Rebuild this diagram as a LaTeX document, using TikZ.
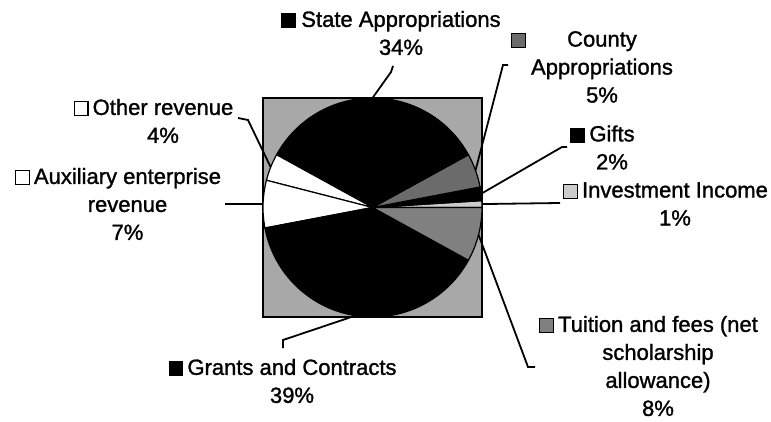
\documentclass[tikz,border=0pt]{standalone}
\usepackage{fontspec}
\setmainfont{Liberation Sans}[FakeBold=1.3]
\usepackage{tikz}

\definecolor{plotgray}{gray}{0.66}
\definecolor{countygray}{gray}{0.42}
\definecolor{tuitiongray}{gray}{0.5}
\definecolor{investgray}{gray}{0.8}
\newcommand{\keybox}[1]{{\setlength{\fboxsep}{0pt}\setlength{\fboxrule}{1.2pt}\fcolorbox{black}{#1}{\rule{0pt}{12.5pt}\rule{12.5pt}{0pt}}}}

\begin{document}
\begin{tikzpicture}[x=1pt,y=1pt,
  lbl/.style={align=center,font=\fontsize{22}{28}\selectfont,inner sep=0pt},
  leader/.style={line width=1.8pt},
  slice/.style={draw=black,line width=1.2pt}]
\useasboundingbox (0,0) rectangle (771,421);

% plot area
\draw[fill=plotgray,line width=1.5pt] (263,104) rectangle (482,323);
\coordinate (pie) at (372.5,213.5);

% slices, counterclockwise from 3 o'clock
\filldraw[slice,fill=investgray] (pie) -- ++(0:109.5) arc (0:3.6:109.5) -- cycle;
\filldraw[slice,fill=black] (pie) -- ++(3.6:109.5) arc (3.6:10.8:109.5) -- cycle;
\filldraw[slice,fill=countygray] (pie) -- ++(10.8:109.5) arc (10.8:28.8:109.5) -- cycle;
\filldraw[slice,fill=black] (pie) -- ++(28.8:109.5) arc (28.8:151.2:109.5) -- cycle;
\filldraw[slice,fill=white] (pie) -- ++(151.2:109.5) arc (151.2:165.6:109.5) -- cycle;
\filldraw[slice,fill=white] (pie) -- ++(165.6:109.5) arc (165.6:190.8:109.5) -- cycle;
\filldraw[slice,fill=black] (pie) -- ++(190.8:109.5) arc (190.8:331.2:109.5) -- cycle;
\filldraw[slice,fill=tuitiongray] (pie) -- ++(331.2:109.5) arc (331.2:360:109.5) -- cycle;

% labels
\node[lbl] (stateLbl) at (401,388) {\llap{\keybox{black}\hspace{5pt}}State Appropriations\\34\%};
\node[lbl] (countyLbl) at (602,354) {\llap{\keybox{countygray}\hspace{41pt}}County\\Appropriations\\5\%};
\node[lbl] (giftsLbl) at (612,273.5) {\llap{\keybox{black}\hspace{4pt}}Gifts\\2\%};
\node[lbl] (investLbl) at (675,217) {\llap{\keybox{investgray}\hspace{4pt}}Investment Income\\1\%};
\node[lbl] (tuitionLbl) at (658,55) {\llap{\keybox{tuitiongray}\hspace{4pt}}Tuition and fees (net\\scholarship\\allowance)\\8\%};
\node[lbl] (grantsLbl) at (292,40) {\llap{\keybox{black}\hspace{4pt}}Grants and Contracts\\39\%};
\node[lbl] (auxLbl) at (127.5,217) {\llap{\keybox{white}\hspace{4pt}}Auxiliary enterprise\\revenue\\7\%};
\node[lbl] (otherLbl) at (163,300) {\llap{\keybox{white}\hspace{4pt}}Other revenue\\4\%};

% leader lines
\path (pie) ++(90:109.5) coordinate (stateEdge);
\path (pie) ++(19.8:109.5) coordinate (countyEdge);
\path (pie) ++(7.2:109.5) coordinate (giftsEdge);
\path (pie) ++(1.8:109.5) coordinate (investEdge);
\path (pie) ++(345.6:109.5) coordinate (tuitionEdge);
\path (pie) ++(261:109.5) coordinate (grantsEdge);
\path (pie) ++(178.2:109.5) coordinate (auxEdge);
\path (pie) ++(158.4:109.5) coordinate (otherEdge);

\coordinate (stateEnd) at (393,355);
\coordinate (countyEnd) at (508,356);
\coordinate (giftsEnd) at (567,274);
\coordinate (investEnd) at (560,218);
\coordinate (tuitionEnd) at (535,54);
\coordinate (grantsEnd) at (283,73);
\coordinate (auxEnd) at (225,217);
\coordinate (otherEnd) at (238,303);

\draw[leader] (stateEdge) -- (391,349) -- (stateEnd);
\draw[leader] (countyEdge) -- (503,356) -- (countyEnd);
\draw[leader] (giftsEdge) -- (562,274) -- (giftsEnd);
\draw[leader] (investEdge) -- (investEnd);
\draw[leader] (tuitionEdge) -- (528,54) -- (tuitionEnd);
\draw[leader] (grantsEdge) -- (283,81) -- (grantsEnd);
\draw[leader] (auxEdge) -- (auxEnd);
\draw[leader] (otherEdge) -- (248,301) -- (otherEnd);
\end{tikzpicture}
\end{document}
